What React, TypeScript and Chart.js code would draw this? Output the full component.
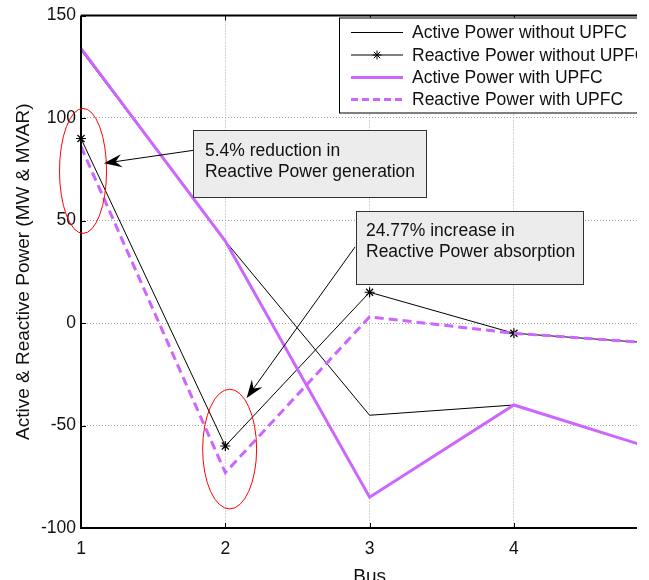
import React, { useEffect, useRef } from "react";
import { Chart, registerables } from "chart.js";

Chart.register(...registerables);

// ---- data ----
const BUSES = [1, 2, 3, 4, 5];
const ACTIVE_WITHOUT = [133, 40, -45, -40, -62];
const REACTIVE_WITHOUT = [90, -60, 15, -5, -10];
const ACTIVE_WITH = [134, 40, -85, -40, -62];
const REACTIVE_WITH = [86, -73, 3, -5, -10];
const X_TICKS = [1, 2, 3, 4];
const Y_TICKS = [-100, -50, 0, 50, 100, 150];
const SERIES_LABELS = [
  "Active Power without UPFC",
  "Reactive Power without UPFC",
  "Active Power with UPFC",
  "Reactive Power with UPFC",
];
const NOTE_1 = ["5.4% reduction in", "Reactive Power generation"];
const NOTE_2 = ["24.77% increase in", "Reactive Power absorption"];
const X_TITLE = "Bus";
const Y_TITLE = "Active & Reactive Power (MW & MVAR)";

const PURPLE = "#cc66ff";
const FONT = "'Liberation Sans', Arial, sans-serif";
const TXT = "#111";

const pts = (vals: number[]) => BUSES.map((b, i) => ({ x: b, y: vals[i] }));

function drawArrow(ctx: CanvasRenderingContext2D, x1: number, y1: number, x2: number, y2: number) {
  const ang = Math.atan2(y2 - y1, x2 - x1);
  const L = 18, W = 6.5;
  ctx.save();
  ctx.strokeStyle = "#000";
  ctx.fillStyle = "#000";
  ctx.lineWidth = 1;
  ctx.beginPath();
  ctx.moveTo(x1, y1);
  ctx.lineTo(x2 - Math.cos(ang) * L * 0.6, y2 - Math.sin(ang) * L * 0.6);
  ctx.stroke();
  ctx.translate(x2, y2);
  ctx.rotate(ang);
  ctx.beginPath();
  ctx.moveTo(0, 0);
  ctx.lineTo(-L, -W);
  ctx.lineTo(-L * 0.65, 0);
  ctx.lineTo(-L, W);
  ctx.closePath();
  ctx.fill();
  ctx.restore();
}

const overlayPlugin = {
  id: "overlay",
  beforeDatasetsDraw(chart: any) {
    const { ctx, chartArea: ca, scales } = chart;
    const xs = scales.x, ys = scales.y;
    ctx.save();
    ctx.strokeStyle = "#000";
    ctx.lineWidth = 1;
    const tl = 5;
    ctx.beginPath();
    X_TICKS.forEach((v) => {
      const px = Math.round(xs.getPixelForValue(v)) + 0.5;
      ctx.moveTo(px, ca.bottom);
      ctx.lineTo(px, ca.bottom - tl);
      ctx.moveTo(px, ca.top);
      ctx.lineTo(px, ca.top + tl);
    });
    Y_TICKS.forEach((v) => {
      const py = Math.round(ys.getPixelForValue(v)) + 0.5;
      ctx.moveTo(ca.left, py);
      ctx.lineTo(ca.left + tl, py);
    });
    ctx.stroke();
    ctx.restore();
  },
  afterDatasetsDraw(chart: any) {
    const { ctx, chartArea: ca, scales } = chart;
    const xs = scales.x, ys = scales.y;
    const X = (v: number) => xs.getPixelForValue(v);
    const Y = (v: number) => ys.getPixelForValue(v);

    // axes box lines (left, bottom, top)
    ctx.save();
    ctx.strokeStyle = "#000";
    ctx.lineWidth = 2;
    ctx.beginPath();
    ctx.moveTo(ca.left, ca.top);
    ctx.lineTo(ca.right, ca.top);
    ctx.moveTo(ca.left, ca.top);
    ctx.lineTo(ca.left, ca.bottom);
    ctx.lineTo(ca.right, ca.bottom);
    ctx.stroke();
    ctx.restore();

    // clip everything to the visible width
    ctx.save();
    ctx.beginPath();
    ctx.rect(0, 0, ca.right, chart.height);
    ctx.clip();

    // legend
    const lx = ca.left + 258, ly = ca.top + 2, lb = ca.top + 97;
    ctx.fillStyle = "#fff";
    ctx.fillRect(lx, ly, 400, lb - ly);
    ctx.strokeStyle = "#000";
    ctx.lineWidth = 1;
    ctx.strokeRect(lx + 0.5, ly + 0.5, 400, lb - ly);
    const rows = [ly + 15, ly + 37.5, ly + 60, ly + 82];
    const sx1 = lx + 12, sx2 = lx + 64;
    rows.forEach((ry, i) => {
      ctx.save();
      if (i < 2) {
        ctx.strokeStyle = "#000";
        ctx.lineWidth = 1;
      } else {
        ctx.strokeStyle = PURPLE;
        ctx.lineWidth = 3;
        if (i === 3) ctx.setLineDash([7, 4]);
      }
      ctx.beginPath();
      ctx.moveTo(sx1, ry);
      ctx.lineTo(sx2, ry);
      ctx.stroke();
      ctx.restore();
      if (i === 1) {
        const cx = (sx1 + sx2) / 2, r = 4.5;
        ctx.save();
        ctx.strokeStyle = "#000";
        ctx.lineWidth = 1;
        ctx.beginPath();
        ctx.moveTo(cx - r, ry); ctx.lineTo(cx + r, ry);
        ctx.moveTo(cx, ry - r); ctx.lineTo(cx, ry + r);
        const d = r * 0.707;
        ctx.moveTo(cx - d, ry - d); ctx.lineTo(cx + d, ry + d);
        ctx.moveTo(cx - d, ry + d); ctx.lineTo(cx + d, ry - d);
        ctx.stroke();
        ctx.restore();
      }
      ctx.fillStyle = TXT;
      ctx.font = `17.5px ${FONT}`;
      ctx.textBaseline = "middle";
      ctx.textAlign = "left";
      ctx.fillText(SERIES_LABELS[i], lx + 73, ry + 1);
    });

    // red ellipses
    ctx.strokeStyle = "#ff0000";
    ctx.lineWidth = 1;
    const ell = (cx: number, cy: number, rx: number, ry: number) => {
      const px = X(cx), py = Y(cy);
      const prx = Math.abs(X(cx + rx) - px), pry = Math.abs(Y(cy + ry) - py);
      ctx.beginPath();
      ctx.ellipse(px, py, prx, pry, 0, 0, Math.PI * 2);
      ctx.stroke();
    };
    ell(1.014, 74.2, 0.163, 30.5);
    ell(2.03, -61.5, 0.187, 29.2);

    // arrows
    drawArrow(ctx, X(1.776), Y(84.2), X(1.159), Y(77.9));
    drawArrow(ctx, X(2.899), Y(37.1), X(2.148), Y(-36.6));

    // text boxes
    const box = (x1: number, y1: number, x2: number, y2: number, lines: string[], tx: number, ty: number[]) => {
      const l = Math.round(X(x1)) + 0.5, t = Math.round(Y(y1)) + 0.5;
      const r = Math.round(X(x2)) + 0.5, b = Math.round(Y(y2)) + 0.5;
      ctx.fillStyle = "#ececec";
      ctx.fillRect(l, t, r - l, b - t);
      ctx.strokeStyle = "#333";
      ctx.lineWidth = 1;
      ctx.strokeRect(l, t, r - l, b - t);
      ctx.fillStyle = TXT;
      ctx.font = `17.5px ${FONT}`;
      ctx.textBaseline = "middle";
      ctx.textAlign = "left";
      lines.forEach((s, i) => ctx.fillText(s, X(tx), Y(ty[i])));
    };
    box(1.776, 94.3, 3.394, 61.5, NOTE_1, 1.859, [83.9, 73.6]);
    box(2.906, 54.7, 4.479, 18.9, NOTE_2, 2.975, [44.9, 34.6]);
    ctx.restore();

    // x title
    ctx.save();
    ctx.fillStyle = TXT;
    ctx.font = `19px ${FONT}`;
    ctx.textAlign = "center";
    ctx.textBaseline = "middle";
    ctx.fillText(X_TITLE, X(3), ca.bottom + 49);
    ctx.restore();
  },
};

export default function App() {
  const ref = useRef<HTMLCanvasElement | null>(null);
  useEffect(() => {
    if (!ref.current) return;
    const tickFont = { family: FONT, size: 17.5 };
    const clip = { left: 10, top: 10, right: 0, bottom: 10 } as any;
    const chart = new Chart(ref.current, {
      type: "line",
      data: {
        datasets: [
          {
            label: SERIES_LABELS[2],
            data: pts(ACTIVE_WITH),
            borderColor: PURPLE,
            borderWidth: 3,
            pointRadius: 0,
            clip,
          },
          {
            label: SERIES_LABELS[3],
            data: pts(REACTIVE_WITH),
            borderColor: PURPLE,
            borderWidth: 3,
            borderDash: [9, 5],
            pointRadius: 0,
            clip,
          },
          {
            label: SERIES_LABELS[0],
            data: pts(ACTIVE_WITHOUT),
            borderColor: "#000",
            borderWidth: 1,
            pointRadius: 0,
            clip,
          },
          {
            label: SERIES_LABELS[1],
            data: pts(REACTIVE_WITHOUT),
            borderColor: "#000",
            borderWidth: 1,
            pointStyle: "star",
            pointRadius: 5,
            pointBorderColor: "#000",
            pointBorderWidth: 1.2,
            clip,
          },
        ],
      },
      options: {
        animation: false,
        responsive: false,
        maintainAspectRatio: false,
        layout: { padding: { top: 15, right: 12, left: 0, bottom: 0 } },
        plugins: { legend: { display: false }, tooltip: { enabled: false } },
        elements: { line: { tension: 0 } },
        scales: {
          x: {
            type: "linear",
            min: 1,
            max: 4.853,
            afterFit: (s: any) => { s.height = 52; },
            afterBuildTicks: (s: any) => { s.ticks = X_TICKS.map((v) => ({ value: v })); },
            grid: { color: "#a6a6a6", lineWidth: 1, drawTicks: false },
            border: { display: false, dash: [1, 2] },
            ticks: { padding: 11, font: tickFont, color: TXT, maxRotation: 0 },
          },
          y: {
            type: "linear",
            min: -100,
            max: 150,
            afterFit: (s: any) => { s.width = 81; },
            afterBuildTicks: (s: any) => { s.ticks = Y_TICKS.map((v) => ({ value: v })); },
            grid: { color: "#a6a6a6", lineWidth: 1, drawTicks: false },
            border: { display: false, dash: [1, 2] },
            ticks: { padding: 5, font: tickFont, color: TXT },
            title: {
              display: true,
              text: Y_TITLE,
              font: { family: FONT, size: 19 },
              color: TXT,
              padding: { top: 12, bottom: 0 },
            },
          },
        },
      },
      plugins: [overlayPlugin],
    });
    return () => chart.destroy();
  }, []);
  return (
    <div style={{ position: "fixed", left: 0, top: 0, width: 649, height: 580, background: "#fff" }}>
      <canvas ref={ref} width={649} height={580} style={{ display: "block" }} />
    </div>
  );
}
